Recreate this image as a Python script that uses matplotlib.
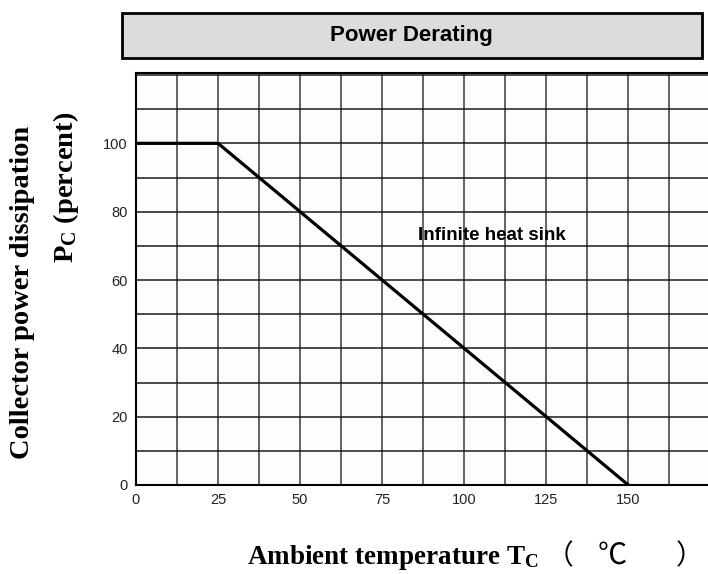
import numpy as np
import matplotlib
matplotlib.use("Agg")
import matplotlib.pyplot as plt
from matplotlib.patches import Rectangle

# data
temp = [0, 25, 150]
power = [100, 100, 0]
x_ticks = [0, 25, 50, 75, 100, 125, 150]
y_ticks = [0, 20, 40, 60, 80, 100]

plt.rcParams['mathtext.fontset'] = 'custom'
plt.rcParams['mathtext.rm'] = 'Liberation Serif:bold'
plt.rcParams['mathtext.bf'] = 'Liberation Serif:bold'
plt.rcParams['mathtext.it'] = 'Liberation Serif:bold'
plt.rcParams['mathtext.default'] = 'bf'

W, H = 708, 574
fig = plt.figure(figsize=(W / 100, H / 100), dpi=100)

def fx(px):
  return px / W

def fy(py):
  return 1 - py / H

# plot area (right side runs off the picture)
ax = fig.add_axes([fx(136), fy(485), fx(708 - 136), (485 - 73.3) / H])
ax.set_facecolor('#fdfdfd')
ax.set_xlim(0, 174.3)
ax.set_ylim(0, 120.5)

for v in np.arange(12.5, 175, 12.5):
  ax.axvline(v, color='#3a3a3a', lw=1.1, zorder=1)
for v in np.arange(10, 121, 10):
  ax.axhline(v, color='#1a1a1a', lw=1.1, zorder=1)

ax.plot(temp, power, color='black', lw=2.3, zorder=3)

ax.set_xticks(x_ticks)
ax.set_yticks(y_ticks)
ax.tick_params(length=0, labelsize=10.5, colors='#222222', pad=6)
for lab in ax.get_xticklabels() + ax.get_yticklabels():
  lab.set_fontfamily('Liberation Sans')
ax.spines['right'].set_visible(False)
for s in ['left', 'bottom', 'top']:
  ax.spines[s].set_color('black')
  ax.spines[s].set_linewidth(1.5)

ax.text(86, 73, 'Infinite heat sink', fontsize=13.5, fontweight='bold',
        family='Liberation Sans', va='center', ha='left', zorder=4)

# title box
fig.patches.append(Rectangle((fx(121.7), fy(58.3)), fx(580), 45 / H,
                             transform=fig.transFigure, facecolor='#dcdcdc',
                             edgecolor='black', lw=2))
fig.text(fx(411.7), fy(36), 'Power Derating', fontsize=16, fontweight='bold',
         family='Liberation Sans', ha='center', va='center')

# axis labels
fig.text(fx(23), fy(292), 'Collector power dissipation', rotation=90,
         fontsize=20.5, fontweight='bold', family='Liberation Serif',
         ha='center', va='center')
fig.text(fx(66), fy(187), r'$\mathbf{P_C}$ (percent)', rotation=90,
         fontsize=20.5, fontweight='bold', family='Liberation Serif',
         ha='center', va='center')

fig.text(fx(247), fy(564), r'Ambient temperature $\mathbf{T_C}$',
         fontsize=19.5, fontweight='bold', family='Liberation Serif',
         ha='left', va='baseline')
cjk = ['Noto Sans CJK SC', 'DejaVu Sans']
fig.text(fx(573), fy(564), '（', fontsize=20, family=cjk, ha='right', va='baseline')
fig.text(fx(612), fy(564), '℃', fontsize=21, family=cjk, ha='center', va='baseline')
fig.text(fx(676), fy(564), '）', fontsize=20, family=cjk, ha='left', va='baseline')

fig.savefig('out.png', dpi=100)
